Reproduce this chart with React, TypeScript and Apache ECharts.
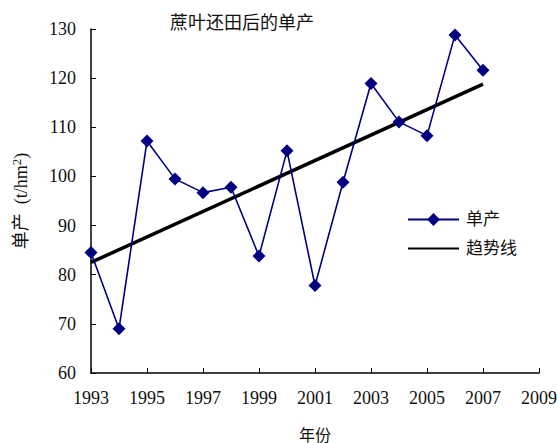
import React, { useEffect, useRef } from "react";
import * as echarts from "echarts";

const years = [1993, 1994, 1995, 1996, 1997, 1998, 1999, 2000, 2001, 2002, 2003, 2004, 2005, 2006, 2007];
const yieldValues = [84.5, 69.0, 107.2, 99.5, 96.7, 97.8, 83.8, 105.2, 77.8, 98.8, 118.9, 111.1, 108.3, 128.8, 121.6];
const trendYears = [1993, 2007];
const trendValues = [82.5, 118.8];
const xMinYear = 1993;
const xMaxYear = 2009;

const FONT = "'Liberation Serif', 'Times New Roman', 'Noto Sans CJK SC', serif";
const TEXT = "#111";

export default function App() {
  const ref = useRef<HTMLDivElement>(null);
  useEffect(() => {
    if (!ref.current) return;
    const chart = echarts.init(ref.current, undefined, { renderer: "svg" });
    chart.setOption({
      animation: false,
      backgroundColor: "#fff",
      textStyle: { fontFamily: FONT },
      title: {
        text: "蔗叶还田后的单产",
        left: 170,
        top: 14,
        padding: 0,
        textStyle: { fontFamily: FONT, fontSize: 18, fontWeight: "normal", color: TEXT },
      },
      legend: {
        orient: "vertical",
        left: 407,
        top: 211,
        padding: 0,
        itemWidth: 51,
        itemHeight: 16,
        itemGap: 12,
        textStyle: { fontFamily: FONT, fontSize: 17, color: TEXT, padding: [0, 0, 0, 2] },
        data: [
          { name: "单产" },
          { name: "趋势线", itemStyle: { color: "rgba(0,0,0,0)", borderWidth: 0 } },
        ],
      },
      grid: { left: 91, right: 18, top: 29, bottom: 70, outerBoundsMode: "none", containLabel: false },
      xAxis: {
        type: "value",
        min: 0,
        max: xMaxYear - xMinYear,
        interval: 2,
        name: "年份",
        nameLocation: "middle",
        nameGap: 54,
        nameTextStyle: { fontFamily: FONT, fontSize: 16, color: TEXT },
        axisLine: { lineStyle: { color: "#000", width: 1.5 } },
        axisTick: { inside: true, length: 5, lineStyle: { color: "#000", width: 1 } },
        axisLabel: {
          formatter: (v: number) => String(v + xMinYear),
          fontFamily: FONT,
          fontSize: 18,
          color: TEXT,
          margin: 16,
        },
        splitLine: { show: false },
      },
      yAxis: {
        type: "value",
        min: 60,
        max: 130,
        interval: 10,
        name: "{a|单产  (t/hm}{sup|2}{a|)}",
        nameLocation: "middle",
        nameRotate: 90,
        nameGap: 60,
        nameTextStyle: {
          fontFamily: FONT,
          color: TEXT,
          rich: {
            a: { fontFamily: FONT, fontSize: 18, color: TEXT },
            sup: { fontFamily: FONT, fontSize: 13, color: TEXT, verticalAlign: "top", padding: [0, 0, 8, 0] },
          },
        },
        axisLine: { show: true, lineStyle: { color: "#000", width: 1.5 } },
        axisTick: { show: true, inside: true, length: 5, lineStyle: { color: "#000", width: 1 } },
        axisLabel: { fontFamily: FONT, fontSize: 18, color: TEXT, margin: 15 },
        splitLine: { show: false },
      },
      series: [
        {
          name: "单产",
          type: "line",
          data: years.map((y, i) => [y - xMinYear, yieldValues[i]]),
          symbol: "diamond",
          symbolSize: 13,
          itemStyle: { color: "#000080" },
          lineStyle: { color: "#000080", width: 1.6 },
          z: 3,
        },
        {
          name: "趋势线",
          type: "line",
          data: trendYears.map((y, i) => [y - xMinYear, trendValues[i]]),
          symbol: "none",
          itemStyle: { color: "#000" },
          lineStyle: { color: "#000", width: 3.5 },
          z: 2,
        },
      ],
    });
    return () => chart.dispose();
  }, []);
  return <div ref={ref} style={{ width: 557, height: 443, position: "absolute", left: 0, top: 0 }} />;
}
